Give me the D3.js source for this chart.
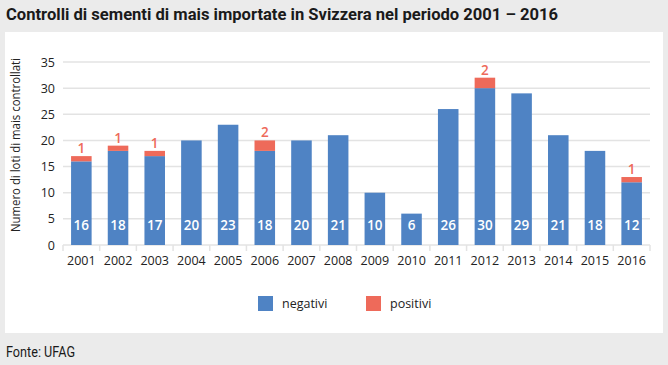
<!DOCTYPE html>
<html><head><meta charset="utf-8">
<script src="https://cdn.jsdelivr.net/npm/d3@7"></script>
<style>body{margin:0;background:#ebebeb;}svg{display:block;}</style>
</head><body>
<svg id="c" width="668" height="365"></svg>
<script>
const years = ["2001","2002","2003","2004","2005","2006","2007","2008","2009","2010","2011","2012","2013","2014","2015","2016"];
const negativi = [16,18,17,20,23,18,20,21,10,6,26,30,29,21,18,12];
const positivi = [1,1,1,0,0,2,0,0,0,0,0,2,0,0,0,1];
const yTicks = [0,5,10,15,20,25,30,35];
const seriesNames = ["negativi","positivi"];
const colors = {negativi:"#4f83c4", positivi:"#ee6a5a"};
const titleText = "Controlli di sementi di mais importate in Svizzera nel periodo 2001 – 2016";
const yTitle = "Numero di loti di mais controllati";
const source = "Fonte: UFAG";

const svg = d3.select("#c");
const font = "'Open Sans', sans-serif";
svg.append("rect").attr("x",0).attr("y",0).attr("width",668).attr("height",365).attr("fill","#ebebeb");
svg.append("rect").attr("x",5).attr("y",32).attr("width",658).attr("height",301).attr("fill","#ffffff");
svg.append("text").attr("x",6).attr("y",20).text(titleText)
  .attr("font-family","Roboto, sans-serif").attr("font-weight","bold").attr("font-size",17).attr("fill","#1a1a1a")
  .attr("textLength",552).attr("lengthAdjust","spacingAndGlyphs");
svg.append("text").attr("x",6).attr("y",357).text(source)
  .attr("font-family","Roboto, sans-serif").attr("font-size",14).attr("fill","#1a1a1a")
  .attr("textLength",69).attr("lengthAdjust","spacingAndGlyphs");

const x = d3.scaleBand().domain(years).range([63,650]).paddingInner(0.44).paddingOuter(0.22);
const y = d3.scaleLinear().domain([0,35]).range([245,62]);

const grid = svg.append("g");
grid.selectAll("line").data(yTicks).join("line")
  .attr("x1",63).attr("x2",650).attr("y1",d=>y(d)).attr("y2",d=>y(d))
  .attr("stroke","#e3e3e3").attr("stroke-width",1.5);

const xAxis = d3.axisBottom(x).tickSize(0).tickPadding(11);
const gx = svg.append("g").attr("transform","translate(0,245)").call(xAxis);
gx.select(".domain").remove();
gx.selectAll("text").attr("font-family",font).attr("font-size",12.5).attr("fill","#222");
const bounds = d3.range(years.length+1).map(i=>63+i*(587/years.length));
svg.append("g").selectAll("line").data(bounds).join("line")
  .attr("x1",d=>d).attr("x2",d=>d).attr("y1",245).attr("y2",251).attr("stroke","#e3e3e3").attr("stroke-width",1.5);

const yAxis = d3.axisLeft(y).tickValues(yTicks).tickSize(0).tickPadding(8);
const gy = svg.append("g").attr("transform","translate(63,0)").call(yAxis);
gy.select(".domain").remove();
gy.selectAll("text").attr("font-family",font).attr("font-size",12.5).attr("fill","#222");

svg.append("text").attr("transform","translate(20,145) rotate(-90)").attr("text-anchor","middle")
  .text(yTitle).attr("font-family",font).attr("font-size",12.5).attr("fill","#222")
  .attr("textLength",174).attr("lengthAdjust","spacingAndGlyphs");

const data = years.map((yr,i)=>({year:yr, negativi:negativi[i], positivi:positivi[i]}));
const stack = d3.stack().keys(seriesNames)(data);
const bars = svg.append("g");
stack.forEach(s=>{
  bars.append("g").selectAll("rect").data(s.filter(d=>d[1]-d[0]>0)).join("rect")
    .attr("x",d=>x(d.data.year)).attr("width",x.bandwidth())
    .attr("y",d=>y(d[1])).attr("height",d=>y(d[0])-y(d[1]))
    .attr("fill",colors[s.key]);
});

svg.append("g").selectAll("text").data(data).join("text")
  .attr("x",d=>x(d.year)+x.bandwidth()/2).attr("y",230).attr("text-anchor","middle")
  .text(d=>d.negativi).attr("font-family",font).attr("font-weight",600).attr("font-size",13.5).attr("fill","#fff");
svg.append("g").selectAll("text").data(data.filter(d=>d.positivi>0)).join("text")
  .attr("x",d=>x(d.year)+x.bandwidth()/2).attr("y",d=>y(d.negativi+d.positivi)-3).attr("text-anchor","middle")
  .text(d=>d.positivi).attr("font-family",font).attr("font-weight",600).attr("font-size",13.5).attr("fill","#ee6a5a");

const legX = [258, 366];
const leg = svg.append("g");
seriesNames.forEach((k,i)=>{
  leg.append("rect").attr("x",legX[i]).attr("y",296).attr("width",15).attr("height",15).attr("fill",colors[k]);
  leg.append("text").attr("x",legX[i]+24).attr("y",308).text(k).attr("font-family",font).attr("font-size",12.5).attr("fill","#222");
});
</script>
</body></html>
